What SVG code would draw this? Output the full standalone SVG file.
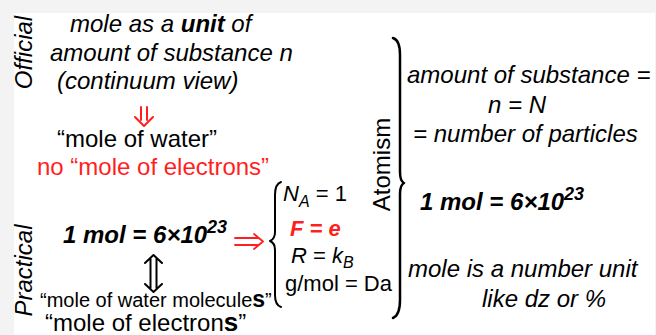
<svg xmlns="http://www.w3.org/2000/svg" width="656" height="335" viewBox="0 0 656 335">
<defs>
<style>
text{font-family:"Liberation Sans",Arial,Helvetica,sans-serif;fill:#000}
.it{font-style:italic}
.b{font-weight:bold}
.s24{font-size:24px}
.s22{font-size:22px}
.s20{font-size:20px}
.red{fill:#ff1f1f}
.conn{fill:none;stroke-linecap:round;stroke-linejoin:round}
.k{stroke:#000}
.r{stroke:#ff1f1f}
</style>
</defs>
<rect x="0" y="0" width="656" height="335" fill="#f3f3f3"/>
<rect x="14" y="13" width="641" height="322" fill="#ffffff"/>

<g id="label-official">
<text class="it s24" transform="translate(32 52.5) rotate(-90)" text-anchor="middle">Official</text>
</g>
<g id="label-practical">
<text class="it s24" transform="translate(32 270.5) rotate(-90)" text-anchor="middle">Practical</text>
</g>
<g id="label-atomism">
<text class="s24" transform="translate(390 164.5) rotate(-90)" text-anchor="middle">Atomism</text>
</g>

<g id="node-official">
<text class="it s24" x="70" y="32">mole as a <tspan class="b">unit</tspan> of</text>
<text class="it s24" x="50" y="61">amount of substance n</text>
<text class="it s24" x="57" y="89">(continuum view)</text>
</g>

<g id="node-water">
<text class="s24" x="57" y="147">“mole of water”</text>
<text class="s24 red" x="37" y="175">no “mole of electrons”</text>
</g>

<g id="node-practical">
<text class="it b s24" x="63" y="243">1 mol = 6×10<tspan dy="-10" font-size="18">23</tspan></text>
</g>

<g id="node-molecules">
<text class="s20" x="40" y="307">“mole of water molecule<tspan class="b" font-size="23">s</tspan>”</text>
<text class="s24" x="45" y="331">“mole of electron<tspan class="b" font-size="26">s</tspan>”</text>
</g>

<g id="node-constants">
<text class="it s22" x="283" y="201">N<tspan font-size="16" dy="6">A</tspan><tspan dy="-6" font-style="normal"> = 1</tspan></text>
<text class="it b s22 red" x="290" y="236">F = e</text>
<text class="it s22" x="291" y="263">R <tspan font-style="normal">=</tspan> k<tspan font-size="16" dy="5">B</tspan></text>
<text class="s22" x="285" y="291">g/mol = Da</text>
</g>

<g id="node-atomism-top">
<text class="it s24" x="407" y="83">amount of substance =</text>
<text class="it s24" x="488" y="113">n = N</text>
<text class="it s24" x="413" y="142">= number of particles</text>
</g>

<g id="node-atomism-bottom">
<text class="it b s24" x="420" y="210">1 mol = 6×10<tspan dy="-10" font-size="18">23</tspan></text>
<text class="it s24" x="408" y="277">mole is a number unit</text>
<text class="it s24" x="482" y="307">like dz or %</text>
</g>

<g id="connectors">
<path class="conn r" stroke-width="2" d="M141 107 V120 M147 107 V120 M135 117 L144 126 L153 117"/>
<path class="conn r" stroke-width="1.8" d="M235 238 H258 M235 245 H258 M254 234 L263 241.5 L254 249"/>
<path class="conn k" stroke-width="2" d="M150.5 259 V288 M156.5 259 V288 M145 263 L153.5 255 L162 263 M145 284 L153.5 292 L162 284"/>
<path class="conn k" stroke-width="2" d="M281 182 Q275 184 275 195 L275 232 Q275 239 270 241 Q275 243 275 250 L275 295 Q275 305 281 307"/>
<path class="conn k" stroke-width="2.5" d="M393 38 Q400 40 400 55 L400 172 Q400 181 404 183 Q400 185 400 194 L400 300 Q400 315 393 318"/>
</g>
</svg>
